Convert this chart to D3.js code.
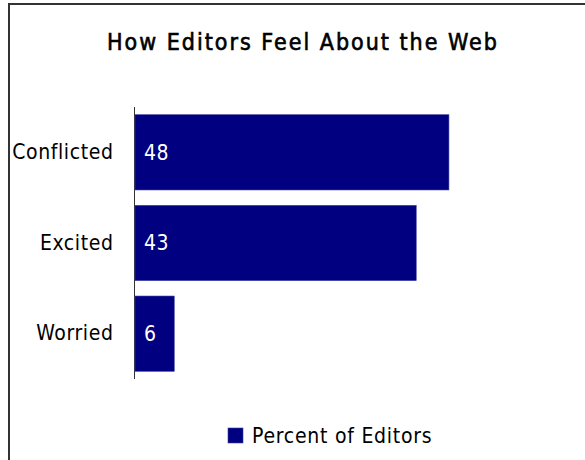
<!DOCTYPE html>
<html>
<head>
<meta charset="utf-8">
<script src="https://cdn.jsdelivr.net/npm/d3@7"></script>
<style>
  html, body { margin: 0; padding: 0; background: #fff; }
  svg { display: block; }
  text { font-family: "DejaVu Sans Condensed", "DejaVu Sans", sans-serif; }
</style>
</head>
<body>
<svg id="chart" width="585" height="460"></svg>
<script>
// Survey responses
const categories = ["Conflicted", "Excited", "Worried"];
const values = [48, 43, 6];
const seriesName = "Percent of Editors";
const title = "How Editors Feel About the Web";

const svg = d3.select("#chart");
const barColor = "#000080";
const fontFamily = "DejaVu Sans Condensed, DejaVu Sans, sans-serif";

// Frame: top and left edges
svg.append("line").attr("x1", 8).attr("x2", 585).attr("y1", 4).attr("y2", 4)
  .attr("stroke", "#333").attr("stroke-width", 2);
svg.append("line").attr("x1", 9).attr("x2", 9).attr("y1", 3).attr("y2", 460)
  .attr("stroke", "#333").attr("stroke-width", 2);

// Title (left-anchored so the letter spacing does not shift it)
svg.append("text")
  .attr("x", 107).attr("y", 50)
  .attr("font-family", "DejaVu Sans, sans-serif")
  .attr("font-size", 23)
  .attr("letter-spacing", 2.0)
  .attr("fill", "#000")
  .attr("stroke", "#000")
  .attr("stroke-width", 0.6)
  .text(title);

const x = d3.scaleLinear().domain([0, 50]).range([135, 462]);
const y = d3.scaleBand().domain(categories).range([107, 379]).paddingInner(0.17).paddingOuter(0.085);

// Category axis
const yAxis = d3.axisLeft(y).tickSize(0).tickPadding(21);
const gy = svg.append("g").attr("transform", `translate(${x(0) - 0.5},0)`).call(yAxis);
gy.select(".domain").attr("stroke", "#333").attr("d", `M0,107V379`);
gy.selectAll("text")
  .attr("font-size", 21)
  .attr("letter-spacing", 0.6)
  .attr("fill", "#000")
  .attr("font-family", fontFamily);

// Bars
const data = categories.map((c, i) => ({ c, v: values[i] }));
svg.append("g").selectAll("rect").data(data).join("rect")
  .attr("x", x(0))
  .attr("y", d => y(d.c))
  .attr("width", d => x(d.v) - x(0))
  .attr("height", y.bandwidth())
  .attr("fill", barColor)
  .attr("stroke", "#3a3aa0")
  .attr("stroke-width", 0.6);

// Value labels inside bars
svg.append("g").selectAll("text").data(data).join("text")
  .attr("x", x(0) + 9)
  .attr("y", d => y(d.c) + y.bandwidth() / 2)
  .attr("dy", "0.35em")
  .attr("font-size", 21)
  .attr("letter-spacing", 0.6)
  .attr("fill", "#fff")
  .text(d => d.v);

// Legend
const lg = svg.append("g").attr("transform", "translate(228,428)");
lg.append("rect").attr("width", 15).attr("height", 15).attr("fill", barColor)
  .attr("stroke", "#3a3aa0").attr("stroke-width", 0.6);
lg.append("text").attr("x", 24).attr("y", 15).attr("font-size", 21)
  .attr("letter-spacing", 0.75)
  .attr("fill", "#000").text(seriesName);
</script>
</body>
</html>
